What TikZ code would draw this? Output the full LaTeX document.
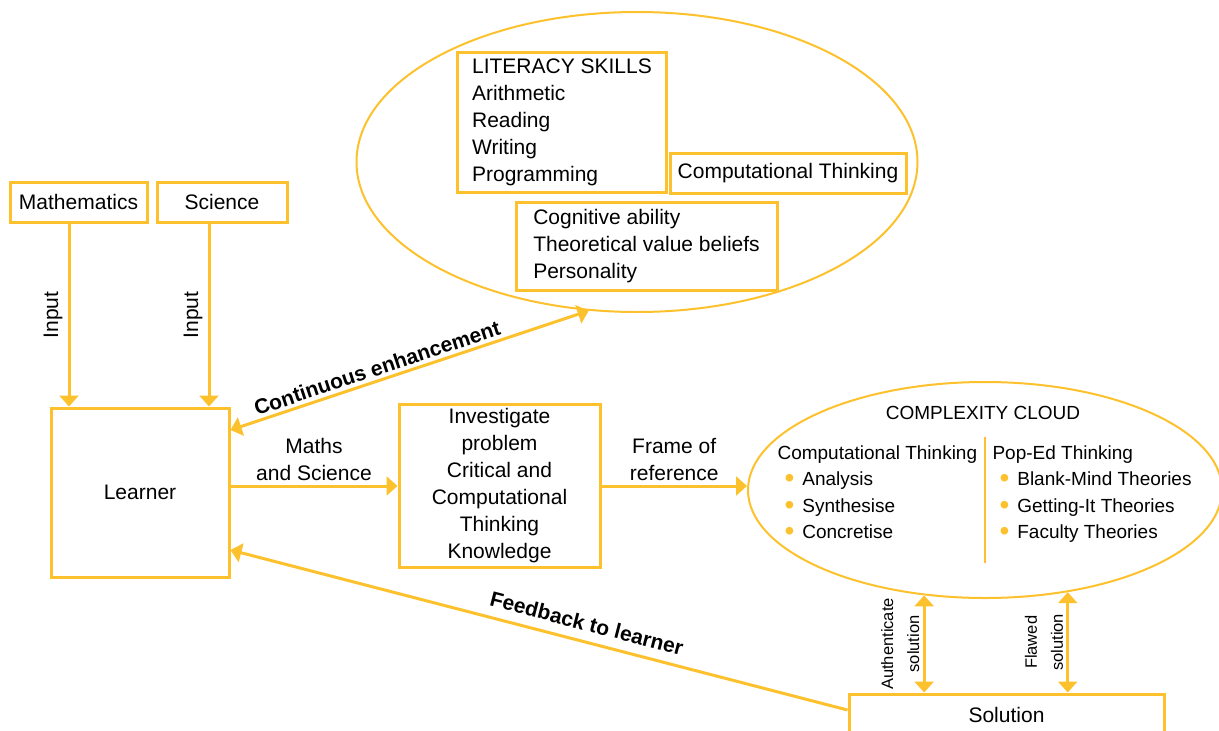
\documentclass[tikz,border=0pt]{standalone}
\usepackage{fontspec}
\setmainfont{Liberation Sans}
\usetikzlibrary{arrows.meta,shapes.geometric,positioning}
\definecolor{ylw}{RGB}{252,193,45}
\newcommand{\bigtxt}{\fontsize{21}{27}\selectfont}
\newcommand{\cloudtxt}{\fontsize{19}{26.5}\selectfont}
\newcommand{\sidetxt}{\fontsize{16.5}{26}\selectfont}
\newcommand{\bul}[1]{\hspace*{7pt}\textcolor{ylw}{\raisebox{-2pt}{\fontsize{28}{28}\selectfont\textbullet}}\hspace{8pt}#1}
\tikzset{
  box/.style={draw=ylw, line width=3pt, inner sep=0pt, font=\bigtxt},
  oval/.style={ellipse, draw=ylw, line width=2pt, inner sep=0pt},
  arr/.style={draw=ylw, line width=3pt, -{Triangle[width=19pt,length=11pt]}},
  both/.style={draw=ylw, line width=3pt, {Triangle[width=19pt,length=11pt]}-{Triangle[width=19pt,length=11pt]}},
  lbl/.style={font=\bigtxt, text=black},
  boldlbl/.style={font=\bigtxt\bfseries, text=black},
}
\begin{document}
\begin{tikzpicture}[x=1pt, y=-1pt]
\useasboundingbox (0,0) rectangle (1219,731);
% subjects and learner
\node[box, minimum width=137pt, minimum height=40pt] (math) at (78.5,202) {Mathematics};
\node[box, minimum width=130pt, minimum height=40pt] (sci) at (222,202) {Science};
\node[box, minimum width=178pt, minimum height=169pt] (learner) at (140,492.5) {Learner};
\node[box, minimum width=201pt, minimum height=163pt, align=center] (inv) at (499.5,486)
  {Investigate\\problem\\Critical and\\Computational\\Thinking\\Knowledge};
% upper oval
\node[oval, minimum width=561pt, minimum height=300pt] (bigell) at (637,162) {};
\node[box, minimum width=209pt, minimum height=140pt, align=left] (lit) at (562,122)
  {LITERACY SKILLS\\Arithmetic\\Reading\\Writing\\Programming};
\node[box, minimum width=236pt, minimum height=40pt] (ct) at (788,173) {Computational Thinking};
\node[box, minimum width=261pt, minimum height=88pt, align=left] (cog) at (646.5,246)
  {Cognitive ability\\Theoretical value beliefs\\Personality};
% complexity cloud
\node[oval, minimum width=474pt, minimum height=216pt] (cloud) at (985,490) {};
\node[lbl, font=\cloudtxt] (cctitle) at (983,413) {COMPLEXITY CLOUD};
\node[lbl, font=\cloudtxt, align=left, anchor=north west] (ctcol) at (774,442)
  {Computational Thinking\\\bul{Analysis}\\\bul{Synthesise}\\\bul{Concretise}};
\node[lbl, font=\cloudtxt, align=left, anchor=north west] (popcol) at (989,442)
  {Pop-Ed Thinking\\\bul{Blank-Mind Theories}\\\bul{Getting-It Theories}\\\bul{Faculty Theories}};
\draw[ylw, line width=2pt] ([yshift=53pt]cloud.center -| cloud.south) -- ([yshift=-73pt]cloud.center);
\node[box, minimum width=315pt, minimum height=42pt] (sol) at (1006.5,715) {Solution};
% connectors
\draw[arr] ([xshift=-9.5pt]math.south) -- ([xshift=-9.5pt]math.south |- learner.north)
  node[midway, rotate=90, anchor=south, lbl, inner sep=5pt] {Input};
\draw[arr] ([xshift=-13pt]sci.south) -- ([xshift=-13pt]sci.south |- learner.north)
  node[midway, rotate=90, anchor=south, lbl, inner sep=5pt] {Input};
\draw[both] ([yshift=62.5pt]learner.east) -- (bigell.252)
  node[pos=0.42, sloped, above, boldlbl] {Continuous enhancement};
\draw[arr] (learner.east |- inv.west) -- (inv.west)
  node[midway, above, lbl, align=center] {Maths\\and Science};
\draw[arr] (inv.east) -- (inv.east -| cloud.west)
  node[midway, above, lbl, align=center] {Frame of\\reference};
\draw[both] (sol.north -| cloud.240) -- (cloud.240)
  node[midway, rotate=90, anchor=south, lbl, font=\sidetxt, align=center] {Authenticate\\solution};
\draw[both] (sol.north -| cloud.309) -- (cloud.309)
  node[midway, rotate=90, anchor=south, lbl, font=\sidetxt, align=center] {Flawed\\solution};
\draw[arr] ([yshift=5pt]sol.west) -- ([yshift=-57.5pt]learner.east)
  node[pos=0.43, sloped, above=6pt, boldlbl] {Feedback to learner};
\end{tikzpicture}
\end{document}
